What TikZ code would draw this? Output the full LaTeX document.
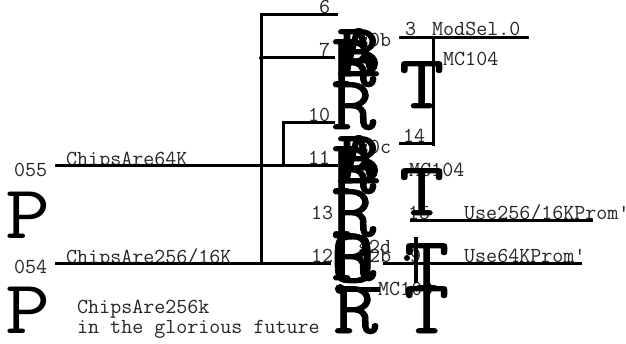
\documentclass[tikz,border=0pt]{standalone}
\usepackage{fontspec}
\newfontfamily\thinfam{Latin Modern Mono}
\newfontfamily\wideP[FakeStretch=1.15]{Latin Modern Mono}
\newfontfamily\boldfam[FakeBold=1.1,FakeStretch=1.15]{Latin Modern Mono}
\tikzset{x=1pt,y=1pt,
 lbl/.style={inner sep=0pt,anchor=base west,text=black!85,font=\thinfam\fontsize{21.4}{21.4}\selectfont},
 bigp/.style={inner sep=0pt,anchor=base west,font=\wideP\fontsize{76}{76}\selectfont},
 bigb/.style={inner sep=0pt,anchor=base west,font=\boldfam\fontsize{76}{76}\selectfont},
 wire/.style={line width=3pt}}
\begin{document}
\begin{tikzpicture}
\useasboundingbox (0,0) rectangle (626,343);
\fill[white] (0,0) rectangle (626,343);
\coordinate (a1) at (261,328);
\coordinate (a2) at (338,328);
\coordinate (a3) at (261,80);
\coordinate (b1) at (261,285);
\coordinate (b2) at (335,285);
\coordinate (c1) at (283,220);
\coordinate (c2) at (335,220);
\coordinate (c3) at (283,177);
\coordinate (d1) at (55,177);
\coordinate (d2) at (338,177);
\coordinate (e1) at (55,80);
\coordinate (e2) at (331,80);
\coordinate (f1) at (399,305);
\coordinate (f2) at (529,305);
\coordinate (g1) at (433,305);
\coordinate (g2) at (433,197);
\coordinate (h1) at (399,199);
\coordinate (i1) at (410,123);
\coordinate (i2) at (593,123);
\coordinate (j1) at (383,80);
\coordinate (j2) at (582,80);
\coordinate (k1) at (416,106);
\coordinate (k2) at (416,60);
\coordinate (k3) at (407,85);
\coordinate (l1) at (340,54);
\coordinate (l2) at (380,54);
\begin{scope}
\clip (55,178) rectangle (338,200);
\node[lbl] (tc) at (66,177) {ChipsAre64K};
\end{scope}
\begin{scope}
\clip (55,81) rectangle (331,100);
\node[lbl] (td) at (66,80) {ChipsAre256/16K};
\end{scope}
\node[lbl] (t6) at (319,329) {6};
\node[lbl] (t7) at (319,286) {7};
\node[lbl] (t10) at (308,221) {10};
\node[lbl] (t11) at (308,178) {11};
\node[lbl] (t13) at (311,124) {13};
\node[lbl] (t12) at (311,81) {12};
\node[lbl] (t3) at (405,307) {3};
\node[lbl] (tm) at (432,307) {ModSel.0};
\node[lbl] (t14) at (403,200) {14};
\node[lbl] (t15) at (408,124) {15};
\node[lbl] (t9) at (410,81) {9};
\node[lbl] (tu) at (464,124) {Use256/16KProm'};
\node[lbl] (tv) at (464,81) {Use64KProm'};
\node[lbl] (t55) at (14,166) {055};
\node[lbl] (t54) at (14,70) {054};
\node[lbl] (tf) at (77,30) {ChipsAre256k};
\node[lbl] (tg) at (77,10) {in the glorious future};
\node[lbl] (m1) at (443,277) {MC104};
\node[lbl] (m2) at (409,166) {MC104};
\node[lbl] (m3) at (378,48) {MC100};
\node[lbl] (s1) at (358,296) {s0b};
\node[lbl] (s2) at (358,189) {s0c};
\node[lbl] (s3) at (358,90) {s2d};
\node[lbl] (s4) at (358,81) {s2b};
\draw[wire] (a2) -- (a1) -- (a3);
\draw[wire] (b1) -- (b2);
\fill (b1) circle (2);
\draw[wire] (c2) -- (c1) -- (c3);
\draw[wire] (d1) -- (d2);
\draw[wire] (e1) -- (e2);
\draw[wire] (f1) -- (f2);
\draw[wire] (g1) -- (g2);
\draw[wire] (h1) -- (g2 |- h1);
\draw[wire] (i1) -- (i2);
\draw[wire] (j1) -- (j2);
\draw[line width=4pt] (k1) -- (k2);
\fill (k3) circle (3);
\draw[line width=5pt] (l1) -- (l2);
\fill (l1) circle (5);
\node[bigp] (p1) at (5,105) {P};
\node[bigp] (p2) at (5,10) {P};
\node[bigb] (ra) at (331,257) {R};
\node[bigb] (rb) at (331,214) {R};
\node[bigb] (rc) at (331,150) {R};
\node[bigb] (rd) at (331,107) {R};
\node[bigb] (re) at (331,63) {R};
\node[bigb] (rf) at (333,10) {R};
\node[bigb] (aa) at (336,267) {A};
\node[bigb] (ab) at (336,267) {B};
\node[bigb] (ac) at (336,160) {A};
\node[bigb] (ad) at (336,160) {B};
\node[bigb] (ae) at (330,61) {O};
\node[bigb] (ta) at (399,235) {T};
\node[bigb] (tb) at (399,128) {T};
\node[bigb] (tc2) at (404,53) {T};
\node[bigb] (td2) at (404,10) {T};
\end{tikzpicture}
\end{document}
